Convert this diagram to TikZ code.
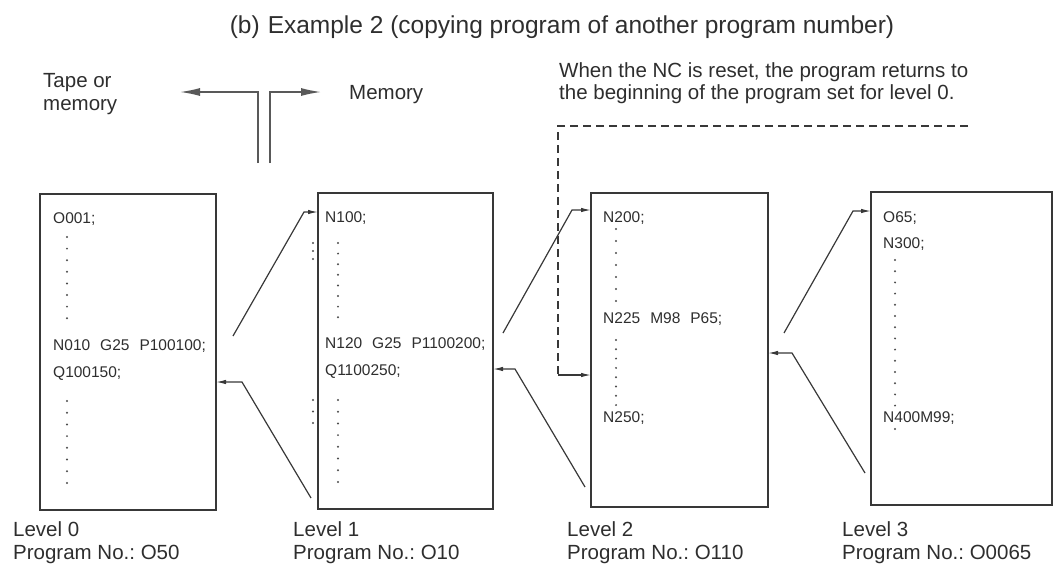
\documentclass[tikz,border=0pt]{standalone}
\usepackage{fontspec}
\setmainfont{Liberation Sans}
\usetikzlibrary{arrows.meta}
\newcommand\wgap{\hspace{10pt}}
\frenchspacing
\begin{document}
\begin{tikzpicture}[x=1pt,y=-1pt,
  box/.style={draw=black!78, line width=1.3pt, inner sep=0pt, outer sep=0pt},
  code/.style={font=\fontsize{15.5}{18}\selectfont, text=black!82, inner sep=0pt, anchor=base west},
  lab/.style={font=\fontsize{20.5}{23}\selectfont, text=black!82, inner sep=0pt, anchor=base west},
  note/.style={font=\fontsize{20.5}{23}\selectfont, text=black!82, inner sep=0pt},
  conn/.style={draw=black!78, line width=1.2pt, -{Latex[length=10pt,width=4.5pt]}},
  bigarrow/.style={draw=black!65, line width=1.4pt, -{Latex[length=20pt,width=8pt]}},
  reset/.style={draw=black!78, line width=1.3pt, dash pattern=on 8pt off 5pt},
  dot/.style={fill=black!70}]
\useasboundingbox (0,0) rectangle (1054,565);

% title
\node[font=\fontsize{24.5}{28}\selectfont, text=black!82, inner sep=0pt, anchor=base] (title) at (562,33)
  {(b)\hspace{8pt}Example 2 (copying program of another program number)};

% tape / memory
\node[lab, anchor=north west, align=left] (tape) at (43,73) {Tape or\\memory};
\node[lab] (mem) at (349,99) {Memory};
\coordinate (tl0) at (258,163);
\coordinate (tl1) at (258,92);
\coordinate (tlE) at (180,92);
\coordinate (tr0) at (270,163);
\coordinate (tr1) at (270,92);
\coordinate (trE) at (321,92);
\draw[bigarrow] (tl0) -- (tl1) -- (tlE);
\draw[bigarrow] (tr0) -- (tr1) -- (trE);

% reset note
\node[note, anchor=base west, align=left] (noteA) at (559,77) {When the NC is reset, the program returns to};
\node[note, anchor=base west, align=left] (noteB) at (559,99) {the beginning of the program set for level 0.};

% boxes
\node[box, minimum width=176pt, minimum height=316pt] (b1) at (128,352) {};
\node[box, minimum width=175pt, minimum height=316pt] (b2) at (405.5,351) {};
\node[box, minimum width=177pt, minimum height=314pt] (b3) at (679.5,350) {};
\node[box, minimum width=181pt, minimum height=313pt] (b4) at (961.5,348.5) {};

% box 1 contents
\node[code] (t1a) at (53,223) {O001;};
\foreach \i in {0,...,7} \fill[dot] (67,{237+\i*11.6}) circle (1.1pt);
\node[code] (t1b) at (53,350) {N010\wgap G25\wgap P100100;};
\node[code] (t1c) at (53,377) {Q100150;};
\foreach \i in {0,...,7} \fill[dot] (67,{401+\i*11.7}) circle (1.1pt);

% box 2 contents
\node[code] (t2a) at (325,222) {N100;};
\foreach \i in {0,...,7} \fill[dot] (338,{243+\i*10.6}) circle (1.1pt);
\foreach \i in {0,...,2} \fill[dot] (313,{243+\i*8}) circle (1.1pt);
\node[code] (t2b) at (325,348) {N120\wgap G25\wgap P1100200;};
\node[code] (t2c) at (325,375) {Q1100250;};
\foreach \i in {0,...,7} \fill[dot] (338,{400+\i*11.7}) circle (1.1pt);
\foreach \i in {0,...,2} \fill[dot] (313,{400+\i*11.5}) circle (1.1pt);

% box 3 contents
\node[code] (t3a) at (603,222) {N200;};
\foreach \i in {0,...,6} \fill[dot] (616,{229+\i*12}) circle (1.1pt);
\node[code] (t3b) at (603,323) {N225\wgap M98\wgap P65;};
\foreach \i in {0,...,7} \fill[dot] (616,{340+\i*9.3}) circle (1.1pt);
\node[code] (t3c) at (603,422) {N250;};

% box 4 contents
\node[code] (t4a) at (883,222) {O65;};
\node[code] (t4b) at (883,248) {N300;};
\foreach \i in {0,...,13} \fill[dot] (895,{260+\i*11.2}) circle (1.1pt);
\node[code] (t4c) at (883,422) {N400M99;};
\fill[dot] (895,429) circle (1.1pt);

% level labels
\node[lab] (l0) at (13,536) {Level 0};
\node[lab] (p0) at (13,559) {Program No.: O50};
\node[lab] (l1) at (293,536) {Level 1};
\node[lab] (p1) at (293,559) {Program No.: O10};
\node[lab] (l2) at (567,536) {Level 2};
\node[lab] (p2) at (567,559) {Program No.: O110};
\node[lab] (l3) at (842,536) {Level 3};
\node[lab] (p3) at (842,559) {Program No.: O0065};

% connectors 0 -> 1
\coordinate (c1s) at (233,336);
\coordinate (c1k) at (304,212);
\draw[conn] (c1s) -- (c1k) -- (c1k -| b2.west);
\coordinate (r1s) at (311,498);
\coordinate (r1k) at (242,382);
\draw[conn] (r1s) -- (r1k) -- (r1k -| b1.east);

% connectors 1 -> 2
\coordinate (c2s) at (503,333);
\coordinate (c2k) at (572,210);
\draw[conn] (c2s) -- (c2k) -- (c2k -| b3.west);
\coordinate (r2s) at (585,487);
\coordinate (r2k) at (515,369);
\draw[conn] (r2s) -- (r2k) -- (r2k -| b2.east);

% connectors 2 -> 3
\coordinate (c3s) at (784,333);
\coordinate (c3k) at (853,211);
\draw[conn] (c3s) -- (c3k) -- (c3k -| b4.west);
\coordinate (r3s) at (865,473);
\coordinate (r3k) at (792,353);
\draw[conn] (r3s) -- (r3k) -- (r3k -| b3.east);

% reset path
\coordinate (d0) at (968,126);
\coordinate (d1) at (558,126);
\coordinate (d2) at (558,375);
\draw[reset] (d0) -- (d1) -- (d2);
\draw[conn] (d2) -- (d2 -| b3.west);
\end{tikzpicture}
\end{document}
